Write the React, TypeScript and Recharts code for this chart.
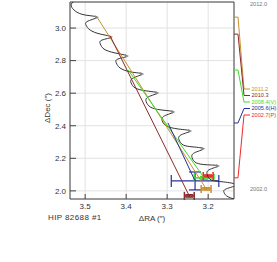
import React from "react";
import { ComposedChart, Scatter, XAxis, YAxis, CartesianGrid, ErrorBar } from "recharts";

// predicted path of the companion (ΔRA, ΔDec in arcsec)
const trackRA = [3.507, 3.529, 3.534, 3.524, 3.5, 3.471, 3.493, 3.498, 3.488, 3.463, 3.437, 3.459, 3.463, 3.454, 3.427, 3.398, 3.42, 3.424, 3.415, 3.388, 3.361, 3.383, 3.388, 3.378, 3.351, 3.324, 3.346, 3.351, 3.341, 3.315, 3.285, 3.307, 3.312, 3.302, 3.273, 3.244, 3.266, 3.271, 3.261, 3.237, 3.212, 3.234, 3.239, 3.229, 3.202, 3.176, 3.198, 3.202, 3.193, 3.163, 3.132, 3.156, 3.161, 3.151, 3.122];
const trackDec = [3.184, 3.16, 3.135, 3.104, 3.08, 3.067, 3.043, 3.018, 2.988, 2.963, 2.945, 2.926, 2.902, 2.871, 2.847, 2.828, 2.81, 2.785, 2.755, 2.73, 2.718, 2.693, 2.663, 2.632, 2.614, 2.601, 2.577, 2.546, 2.515, 2.497, 2.485, 2.46, 2.429, 2.399, 2.38, 2.368, 2.344, 2.313, 2.282, 2.27, 2.258, 2.233, 2.202, 2.172, 2.16, 2.153, 2.129, 2.098, 2.067, 2.055, 2.037, 2.012, 1.988, 1.963, 1.939];

// yearly marks along the path
const markRA = [3.471, 3.437, 3.398, 3.361, 3.324, 3.285, 3.244, 3.212, 3.176];
const markDec = [3.067, 2.945, 2.828, 2.718, 2.601, 2.485, 2.368, 2.258, 2.153];

// epochs
const epochLabels = ["2011.2", "2010.3", "2008.4(V)", "2005.6(H)", "2002.7(P)"];
const epochYear = [2011.2, 2010.3, 2008.4, 2005.6, 2002.7];
const predRA = [3.471, 3.439, 3.395, 3.298, 3.198];
const predDec = [3.067, 2.951, 2.742, 2.417, 2.092];
const obsRA = [3.205, 3.246, 3.21, 3.232, 3.2];
const obsDec = [2.012, 1.969, 2.08, 2.061, 2.092];
const errRA = [0.012, 0.012, 0.024, 0.058, 0.012];
const errDec = [0.007, 0.007, 0.008, 0.055, 0.006];
const colors = ["#c8902c", "#8c2a2a", "#3ddc2a", "#2a2f9a", "#ee2a2a"];

const raTicks = [3.2, 3.3, 3.4, 3.5];
const decTicks = [2.0, 2.2, 2.4, 2.6, 2.8, 3.0];
const yearTicks = [2012.0, 2002.0];

const RA_DOM: [number, number] = [3.137, 3.537];
const DEC_DOM: [number, number] = [1.95, 3.16];
const T_DOM: [number, number] = [2001.58, 2012.0];

const W = 277;
const H = 262;
// plot box: left 70, top 2, right 234, bottom 199 (two 1px axes on each side)
const M = { top: 0, right: 41, bottom: 61, left: 68 };
const PLOT_TOP = 2;
const PLOT_RIGHT = 234;
const PLOT_H = 197;

const raMinor: number[] = [];
for (let i = 314; i <= 353; i++) raMinor.push(i / 100);
const decMinor: number[] = [];
for (let i = 39; i <= 63; i++) decMinor.push(i / 20);

const AX = "#444";
const FONT = "'Liberation Sans', Arial, sans-serif";
const tickStyle = { fontSize: 8, fill: "#333", fontFamily: FONT };

const None = () => <g />;

const track = trackRA.map((ra, i) => ({ ra, dec: trackDec[i] }));
const marks = markRA.map((ra, i) => ({ ra, dec: markDec[i] }));

// label slots on the right (pixel rows) -> converted to years on the time scale
const SLOT0 = 89;
const SLOT_STEP = 6.5;
const pxToYear = (py: number) => T_DOM[1] - ((py - PLOT_TOP) * (T_DOM[1] - T_DOM[0])) / PLOT_H;

const Mark = (p: any) => (
  <path d={`M${p.cx - 2},${p.cy - 2} L${p.cx + 2},${p.cy} L${p.cx - 2},${p.cy + 2} Z`} fill="#888" />
);

export default function App() {
  return (
    <div style={{ position: "relative", width: W, height: H, background: "#fff", overflow: "hidden" }}>
      <style>{"body{margin:0}"}</style>
      <div style={{ position: "absolute", left: 0, top: 0 }}>
        <ComposedChart width={W} height={H} margin={M}>
          <CartesianGrid xAxisId="x" yAxisId="y" stroke="#e2e2e2" />
          <XAxis
            xAxisId="x"
            dataKey="ra"
            type="number"
            domain={RA_DOM}
            reversed
            allowDataOverflow
            ticks={raTicks}
            interval={0}
            tickSize={-5}
            tickMargin={9}
            tick={tickStyle}
            tickFormatter={(v: number) => v.toFixed(1)}
            axisLine={{ stroke: AX }}
            tickLine={{ stroke: AX }}
            height={1}
            label={{ value: "ΔRA (″)", position: "bottom", offset: 15, style: { fontSize: 8, fill: "#333", fontFamily: FONT } }}
          />
          <XAxis xAxisId="xm" type="number" domain={RA_DOM} reversed allowDataOverflow ticks={raMinor} interval={0} tick={false} tickSize={-3} axisLine={false} tickLine={{ stroke: AX }} height={1} />
          <XAxis xAxisId="xt" orientation="top" type="number" domain={RA_DOM} reversed allowDataOverflow ticks={raTicks} interval={0} tick={false} tickSize={-5} axisLine={{ stroke: AX }} tickLine={{ stroke: AX }} height={1} />
          <XAxis xAxisId="xtm" orientation="top" type="number" domain={RA_DOM} reversed allowDataOverflow ticks={raMinor} interval={0} tick={false} tickSize={-3} axisLine={false} tickLine={{ stroke: AX }} height={1} />
          <YAxis
            yAxisId="y"
            dataKey="dec"
            type="number"
            domain={DEC_DOM}
            allowDataOverflow
            ticks={decTicks}
            interval={0}
            tickSize={-6}
            tickMargin={10}
            tick={tickStyle}
            tickFormatter={(v: number) => v.toFixed(1)}
            axisLine={{ stroke: AX }}
            tickLine={{ stroke: AX }}
            width={1}
          />
          <YAxis yAxisId="ym" type="number" domain={DEC_DOM} allowDataOverflow ticks={decMinor} interval={0} tick={false} tickSize={-3} axisLine={false} tickLine={{ stroke: AX }} width={1} />
          <YAxis yAxisId="yr" orientation="right" type="number" domain={DEC_DOM} allowDataOverflow ticks={decTicks} interval={0} tick={false} tickSize={-6} axisLine={{ stroke: AX }} tickLine={{ stroke: AX }} width={1} />
          <YAxis yAxisId="yrm" orientation="right" type="number" domain={DEC_DOM} allowDataOverflow ticks={decMinor} interval={0} tick={false} tickSize={-3} axisLine={false} tickLine={{ stroke: AX }} width={1} />

          <Scatter
            xAxisId="x"
            yAxisId="y"
            data={track}
            shape={None}
            line={{ stroke: "#333", strokeWidth: 1 }}
            lineJointType="natural"
            isAnimationActive={false}
          />
          <Scatter xAxisId="x" yAxisId="y" data={marks} shape={Mark} isAnimationActive={false} />

          {epochYear.map((_, i) => (
            <Scatter
              key={"lead" + i}
              xAxisId="x"
              yAxisId="y"
              data={[
                { ra: predRA[i], dec: predDec[i] },
                { ra: obsRA[i], dec: obsDec[i] },
              ]}
              shape={None}
              line={{ stroke: colors[i], strokeWidth: 1 }}
              isAnimationActive={false}
            />
          ))}
          {[3, 2, 4, 0, 1].map((i) => (
            <Scatter
              key={"obs" + i}
              xAxisId="x"
              yAxisId="y"
              data={[{ ra: obsRA[i], dec: obsDec[i], ex: errRA[i], ey: errDec[i] }]}
              shape={None}
              isAnimationActive={false}
            >
              <ErrorBar dataKey="ex" direction="x" width={i === 3 ? 6 : 4} stroke={colors[i]} strokeWidth={i === 3 ? 1.2 : 1.5} />
              <ErrorBar dataKey="ey" direction="y" width={i === 3 ? 6 : 4} stroke={colors[i]} strokeWidth={i === 3 ? 1.2 : 1.5} />
            </Scatter>
          ))}
        </ComposedChart>
      </div>

      <div style={{ position: "absolute", left: PLOT_RIGHT, top: 0 }}>
        <ComposedChart width={W - PLOT_RIGHT} height={H} margin={{ top: PLOT_TOP, right: 0, bottom: H - PLOT_TOP - PLOT_H, left: 0 }}>
          <XAxis dataKey="x" type="number" domain={[0, W - PLOT_RIGHT]} hide allowDataOverflow />
          <YAxis dataKey="t" type="number" domain={T_DOM} hide allowDataOverflow />
          {epochYear.map((t, i) => {
            const slot = pxToYear(SLOT0 + i * SLOT_STEP);
            return (
              <Scatter
                key={"tl" + i}
                data={[
                  { x: 0, t },
                  { x: 4, t },
                  { x: 10, t: slot },
                  { x: 16, t: slot },
                ]}
                shape={None}
                line={{ stroke: colors[i], strokeWidth: 1 }}
                isAnimationActive={false}
              />
            );
          })}
          {epochYear.map((_, i) => (
            <Scatter
              key={"tx" + i}
              data={[{ x: 17.5, t: pxToYear(SLOT0 + i * SLOT_STEP), label: epochLabels[i] }]}
              shape={(p: any) => (
                <text x={p.cx} y={p.cy} dy="0.35em" fontSize={5.6} fill={colors[i]} fontFamily={FONT}>
                  {p.payload.label}
                </text>
              )}
              isAnimationActive={false}
            />
          ))}
          <Scatter
            data={yearTicks.map((t) => ({ x: 16, t, label: t.toFixed(1) }))}
            shape={(p: any) => (
              <text x={p.cx} y={p.cy} dy={p.payload.t > 2010 ? "0.7em" : "-0.05em"} fontSize={5.6} fill="#777" fontFamily={FONT}>
                {p.payload.label}
              </text>
            )}
            isAnimationActive={false}
          />
        </ComposedChart>
      </div>

      <div style={{ position: "absolute", left: 47, top: 108, transform: "translate(-50%,-50%) rotate(-90deg)", fontSize: 8, color: "#333", fontFamily: FONT, whiteSpace: "nowrap" }}>
        ΔDec (″)
      </div>
      <div style={{ position: "absolute", left: 48, top: 213, fontSize: 8, color: "#333", fontFamily: FONT, whiteSpace: "nowrap", letterSpacing: 0.4 }}>
        HIP 82688 #1
      </div>
    </div>
  );
}
